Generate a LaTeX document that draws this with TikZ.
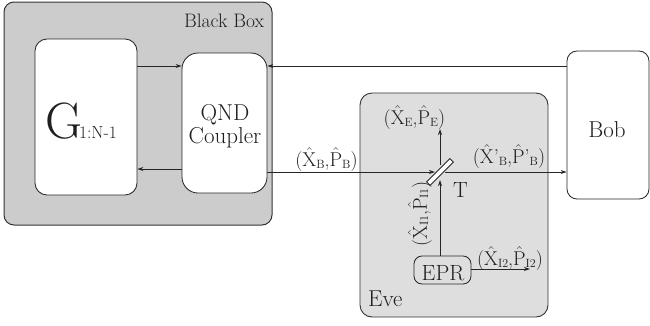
\documentclass[tikz,border=0pt]{standalone}
\usepackage{fix-cm}
\usepackage[no-math]{fontspec}
\usetikzlibrary{arrows.meta}
\newcommand\sbt[1]{\raisebox{-1.2pt}{\fontsize{12}{12}\selectfont #1}}
\newcommand\hx{$\hat{\mathrm{X}}$}
\newcommand\hp{$\hat{\mathrm{P}}$}
\begin{document}
\begin{tikzpicture}[x=1pt,y=-1pt,
  txt/.style={text=black!88},
  big/.style={font=\fontsize{23}{26}\selectfont},
  lab/.style={font=\fontsize{20}{22}\selectfont, inner sep=0pt, text=black!88},
  ln/.style={draw=black!85, line width=0.85pt},
  arr/.style={ln, -{Stealth[length=6pt,width=4pt]}},
  box/.style={ln, fill=white, inner sep=0pt}]
\useasboundingbox (0,0) rectangle (650,325);
% Black box
\path[draw=black!80, line width=1pt, fill=black!20, rounded corners=10pt] (4,2) rectangle (272,225);
\node[lab, font=\fontsize{19.5}{21}\selectfont] (bbl) at (224,21) {Black Box};
% Eve box
\path[draw=black!80, line width=0.9pt, fill=black!13, rounded corners=12pt] (360,93) rectangle (548,317);
\node[lab, big, anchor=base west] (eve) at (368,306) {Eve};
% G
\node[box, rounded corners=12pt, minimum width=102pt, minimum height=156pt] (G) at (86,117) {};
\node[txt, inner sep=0pt, anchor=base] (Gl) at (81,138) {\fontsize{51}{51}\selectfont G\kern-3pt{\fontsize{17.5}{18}\selectfont 1:N-1}};
% QND
\node[box, rounded corners=16pt, minimum width=85pt, minimum height=140pt] (qnd) at (224.5,123) {};
\node[txt, big, align=center, inner sep=0pt] (qndl) at (225,126) {QND\\[-3pt]Coupler};
% Bob
\node[box, rounded corners=10pt, minimum width=82pt, minimum height=148pt] (bob) at (608,125) {};
\node[txt, big, inner sep=0pt, anchor=base] (bobl) at (607,137) {Bob};
% EPR
\node[box, rounded corners=8pt, minimum width=57pt, minimum height=28pt, fill=none] (epr) at (442.5,270) {};
\node[txt, font=\fontsize{22}{24}\selectfont, inner sep=0pt, anchor=base] (eprl) at (443,280) {EPR};
% beam splitter
\node[ln, fill=white, rotate=45, minimum width=33pt, minimum height=5pt, inner sep=0pt] (bs) at (440,172) {};
% coordinates for free ends
\coordinate (eout) at (440,129);
\coordinate (i2out) at (530,269);
% connectors
\draw[arr] (G.east |- 0,66) -- (qnd.west |- 0,66);
\draw[arr] (qnd.west |- 0,169) -- (G.east |- 0,169);
\draw[arr] (bob.west |- 0,66) -- (qnd.east |- 0,66);
\draw[arr] (qnd.east |- bs.center) -- ([xshift=-5pt]bs.center);
\draw[arr] ([xshift=5pt]bs.center) -- (bob.west |- bs.center);
\draw[arr] (epr.north -| bs.center) -- ([yshift=-8pt]bs.center);
\draw[arr] ([yshift=7pt]bs.center) -- (eout);
\draw[arr] (epr.east |- i2out) -- (i2out);
% labels
\node[lab] (lB) at (326.5,160) {(\hx\sbt{B},\hp\sbt{B})};
\node[lab] (lBp) at (509,157) {(\hx’\sbt{B},\hp’\sbt{B})};
\node[lab] (lE) at (414.5,118) {(\hx\sbt{E},\hp\sbt{E})};
\node[lab] (lI2) at (510,259) {(\hx\sbt{I2},\hp\sbt{I2})};
\node[lab, rotate=90] (lI1) at (420,214) {(\hx\sbt{I1},\hp\sbt{I1})};
\node[lab, font=\fontsize{22}{24}\selectfont] (T) at (460.5,190) {T};
\end{tikzpicture}
\end{document}
